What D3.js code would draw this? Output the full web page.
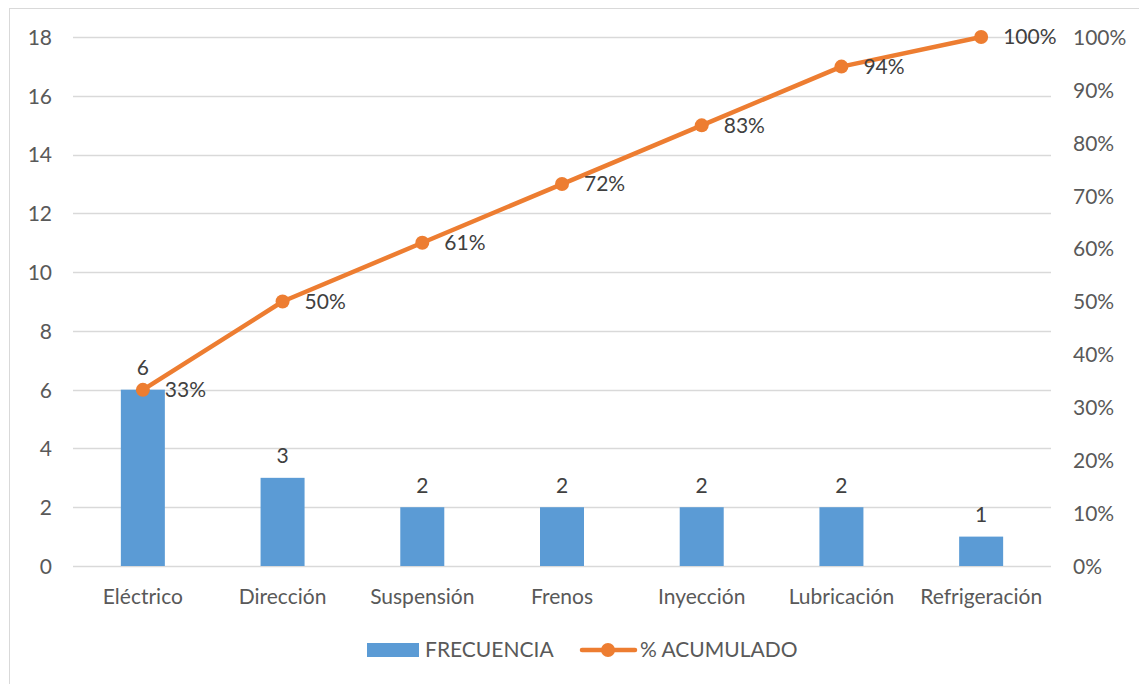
<!DOCTYPE html>
<html>
<head>
<meta charset="utf-8">
<script src="https://cdn.jsdelivr.net/npm/d3@7"></script>
<style>
  body { margin: 0; background: #fff; }
  svg text { font-family: Lato, "Open Sans", sans-serif; }
</style>
</head>
<body>
<svg id="chart" width="1139" height="684"></svg>
<script>
// data
var categories = ["Eléctrico", "Dirección", "Suspensión", "Frenos", "Inyección", "Lubricación", "Refrigeración"];
var frecuencia = [6, 3, 2, 2, 2, 2, 1];
var acumulado = [33.3, 50, 61.1, 72.2, 83.3, 94.4, 100];
var leftTicks = [0, 2, 4, 6, 8, 10, 12, 14, 16, 18];
var rightTicks = [0, 10, 20, 30, 40, 50, 60, 70, 80, 90, 100];

var svg = d3.select("#chart"),
    fs = 21,
    plotLeft = 73, plotRight = 1051, plotTop = 37, plotBottom = 566;

// outer chart border (right/bottom edges fall off the picture)
svg.append("rect")
    .attr("x", 9.5).attr("y", 8.5)
    .attr("width", 1140).attr("height", 690)
    .attr("fill", "none").attr("stroke", "#d9d9d9");

var x = d3.scaleBand().domain(categories).range([plotLeft, plotRight]);
var y = d3.scaleLinear().domain([0, 18]).range([plotBottom, plotTop]);
var y2 = d3.scaleLinear().domain([0, 100]).range([plotBottom, plotTop]);
var cx = (d, i) => x(categories[i]) + x.bandwidth() / 2;

// gridlines
svg.append("g").selectAll("line").data(leftTicks).join("line")
    .attr("x1", plotLeft).attr("x2", plotRight)
    .attr("y1", d => Math.round(y(d)) + 0.5).attr("y2", d => Math.round(y(d)) + 0.5)
    .attr("stroke", "#d9d9d9").attr("stroke-width", 1.3);

function styleAxis(g) {
    g.select(".domain").remove();
    g.selectAll("text").attr("font-size", fs).attr("fill", "#595959").attr("dy", "0.35em")
        .style("font-family", "Lato, sans-serif");
}

// left axis
svg.append("g").attr("transform", "translate(" + (plotLeft - 21) + ",0)")
    .call(d3.axisLeft(y).tickValues(leftTicks).tickSize(0).tickPadding(0))
    .call(styleAxis);

// right axis
svg.append("g").attr("transform", "translate(" + (plotRight + 22) + ",0)")
    .call(d3.axisRight(y2).tickValues(rightTicks).tickSize(0).tickPadding(0).tickFormat(d => d + "%"))
    .call(styleAxis);

// category axis
svg.append("g").attr("transform", "translate(0," + (plotBottom + 31) + ")")
    .call(d3.axisBottom(x).tickSize(0).tickPadding(0))
    .call(styleAxis);

// bars
var barW = 44;
svg.append("g").selectAll("rect").data(frecuencia).join("rect")
    .attr("x", (d, i) => cx(d, i) - barW / 2)
    .attr("width", barW)
    .attr("y", d => y(d))
    .attr("height", d => y(0) - y(d))
    .attr("fill", "#5b9bd5");

svg.append("g").selectAll("text").data(frecuencia).join("text")
    .attr("x", cx)
    .attr("y", d => y(d) - 22)
    .attr("dy", "0.35em")
    .attr("text-anchor", "middle")
    .attr("font-size", fs).attr("fill", "#404040")
    .text(d => d);

// cumulative line
var line = d3.line().x(cx).y(d => y2(d));
svg.append("path").datum(acumulado)
    .attr("d", line)
    .attr("fill", "none").attr("stroke", "#ed7d31").attr("stroke-width", 4.5)
    .attr("stroke-linejoin", "round");

svg.append("g").selectAll("circle").data(acumulado).join("circle")
    .attr("cx", cx)
    .attr("cy", d => y2(d))
    .attr("r", 7)
    .attr("fill", "#ed7d31");

svg.append("g").selectAll("text").data(acumulado).join("text")
    .attr("x", (d, i) => cx(d, i) + 22)
    .attr("y", d => y2(d))
    .attr("dy", "0.35em")
    .attr("font-size", fs).attr("fill", "#404040")
    .text(d => Math.round(d) + "%");

// legend
var lg = svg.append("g");
lg.append("rect").attr("x", 367).attr("y", 643).attr("width", 52).attr("height", 14).attr("fill", "#5b9bd5");
lg.append("text").attr("x", 425).attr("y", 650).attr("dy", "0.35em")
    .attr("font-size", fs).attr("fill", "#595959").text("FRECUENCIA");
lg.append("line").attr("x1", 582).attr("x2", 635).attr("y1", 650).attr("y2", 650)
    .attr("stroke", "#ed7d31").attr("stroke-width", 4.5).attr("stroke-linecap", "round");
lg.append("circle").attr("cx", 608).attr("cy", 650).attr("r", 7).attr("fill", "#ed7d31");
lg.append("text").attr("x", 640).attr("y", 650).attr("dy", "0.35em")
    .attr("font-size", fs).attr("fill", "#595959").text("% ACUMULADO");
</script>
</body>
</html>
